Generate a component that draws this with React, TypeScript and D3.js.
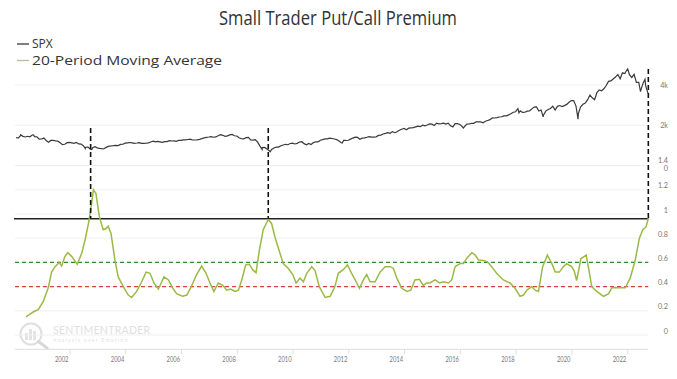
import React from "react";
import * as d3 from "d3";

// ---------- DATA ----------
const title = "Small Trader Put/Call Premium";
const legendLabels = ["SPX", "20-Period Moving Average"];
const xTickYears = [2002, 2004, 2006, 2008, 2010, 2012, 2014, 2016, 2018, 2020, 2022];
const lowerTicks = [0, 0.2, 0.4, 0.6, 0.8, 1, 1.2, 1.4];
const upperTicks = [0, 2000, 4000];
const upperTickLabels = ["0", "2k", "4k"];

// SPX monthly closes, Jan 2000 .. Sep 2022
const spxStartYear = 2000;
const spxMonthly = [
  1394, 1366, 1499, 1452, 1421, 1455, 1431, 1518, 1437, 1429, 1315, 1320,
  1366, 1240, 1160, 1249, 1256, 1224, 1211, 1134, 1041, 1060, 1139, 1148,
  1130, 1107, 1147, 1077, 1067, 990, 912, 916, 815, 886, 936, 880,
  856, 841, 848, 917, 964, 975, 990, 1008, 996, 1051, 1058, 1112,
  1131, 1145, 1126, 1107, 1121, 1141, 1102, 1104, 1115, 1130, 1174, 1212,
  1181, 1204, 1181, 1157, 1192, 1191, 1234, 1220, 1229, 1207, 1249, 1248,
  1280, 1281, 1295, 1311, 1270, 1270, 1277, 1304, 1336, 1378, 1401, 1418,
  1438, 1407, 1421, 1482, 1531, 1503, 1455, 1474, 1527, 1549, 1481, 1468,
  1379, 1331, 1323, 1386, 1400, 1280, 1267, 1283, 1165, 969, 896, 903,
  826, 735, 798, 873, 919, 919, 987, 1021, 1057, 1036, 1096, 1115,
  1074, 1104, 1169, 1187, 1089, 1031, 1102, 1049, 1141, 1183, 1181, 1258,
  1286, 1327, 1326, 1364, 1345, 1321, 1292, 1219, 1131, 1253, 1247, 1258,
  1312, 1366, 1408, 1398, 1310, 1362, 1379, 1407, 1441, 1412, 1416, 1426,
  1498, 1515, 1569, 1598, 1631, 1606, 1686, 1633, 1682, 1757, 1806, 1848,
  1783, 1859, 1872, 1884, 1924, 1960, 1931, 2003, 1972, 2018, 2068, 2059,
  1995, 2105, 2068, 2086, 2107, 2063, 2104, 1972, 1920, 2079, 2080, 2044,
  1940, 1932, 2060, 2065, 2097, 2099, 2174, 2171, 2168, 2126, 2199, 2239,
  2279, 2364, 2363, 2384, 2412, 2423, 2470, 2472, 2519, 2575, 2648, 2674,
  2824, 2714, 2641, 2648, 2705, 2718, 2816, 2902, 2914, 2712, 2760, 2507,
  2704, 2784, 2834, 2946, 2752, 2942, 2980, 2926, 2977, 3038, 3141, 3231,
  3226, 2954, 2585, 2912, 3044, 3100, 3271, 3500, 3363, 3270, 3622, 3756,
  3714, 3811, 3973, 4181, 4204, 4298, 4395, 4523, 4308, 4605, 4567, 4766,
  4516, 4374, 4530, 4132, 4132, 3785, 4130, 3955, 3586,
];
// weekly extremes visible in the picture
const spxExtremes: [number, number][] = [
  [2000.23, 1527], [2000.69, 1520], [2002.55, 847], [2002.78, 800], [2003.2, 833],
  [2008.89, 800], [2009.18, 683], [2011.76, 1120], [2016.11, 1864],
  [2018.1, 2619], [2018.97, 2417], [2020.22, 2305], [2022.0, 4797],
  [2022.46, 3675], [2022.62, 4280],
];

// 20-period moving average of the premium
const maPoints: [number, number][] = [
  [2000.42, 0.15], [2000.55, 0.17], [2000.68, 0.19], [2000.86, 0.21], [2001.04, 0.275],
  [2001.22, 0.39], [2001.34, 0.52], [2001.46, 0.565], [2001.62, 0.6], [2001.7, 0.57],
  [2001.82, 0.65], [2001.92, 0.68], [2002.06, 0.65], [2002.26, 0.585], [2002.42, 0.675],
  [2002.54, 0.785], [2002.66, 0.92], [2002.74, 1.03], [2002.84, 1.2], [2002.93, 1.17],
  [2003.05, 0.98], [2003.19, 0.87], [2003.29, 0.88], [2003.37, 0.9], [2003.47, 0.84],
  [2003.61, 0.62], [2003.73, 0.48], [2003.91, 0.4], [2004.09, 0.33], [2004.21, 0.31],
  [2004.39, 0.36], [2004.57, 0.44], [2004.73, 0.52], [2004.87, 0.51], [2005.01, 0.43],
  [2005.17, 0.38], [2005.29, 0.44], [2005.37, 0.48], [2005.53, 0.455], [2005.68, 0.39],
  [2005.83, 0.34], [2006.04, 0.32], [2006.19, 0.33], [2006.36, 0.405], [2006.54, 0.5],
  [2006.72, 0.57], [2006.88, 0.51], [2007.02, 0.43], [2007.16, 0.36], [2007.32, 0.43],
  [2007.48, 0.41], [2007.62, 0.37], [2007.76, 0.38], [2007.92, 0.36], [2008.04, 0.37],
  [2008.16, 0.455], [2008.3, 0.58], [2008.43, 0.585], [2008.55, 0.54], [2008.67, 0.515],
  [2008.79, 0.7], [2008.93, 0.87], [2009.11, 0.955], [2009.23, 0.92], [2009.35, 0.81],
  [2009.51, 0.69], [2009.65, 0.59], [2009.83, 0.55], [2009.99, 0.5], [2010.11, 0.43],
  [2010.25, 0.47], [2010.37, 0.44], [2010.49, 0.51], [2010.67, 0.565], [2010.79, 0.53],
  [2010.94, 0.4], [2011.15, 0.31], [2011.33, 0.32], [2011.5, 0.4], [2011.62, 0.51],
  [2011.8, 0.54], [2011.95, 0.58], [2012.1, 0.51], [2012.26, 0.44], [2012.38, 0.386],
  [2012.52, 0.455], [2012.64, 0.5], [2012.76, 0.44], [2012.94, 0.44], [2013.12, 0.52],
  [2013.3, 0.565], [2013.48, 0.565], [2013.6, 0.55], [2013.72, 0.47], [2013.9, 0.386],
  [2014.08, 0.36], [2014.22, 0.37], [2014.37, 0.455], [2014.53, 0.46], [2014.67, 0.41],
  [2014.79, 0.43], [2014.91, 0.43], [2015.09, 0.455], [2015.25, 0.43], [2015.39, 0.44],
  [2015.57, 0.43], [2015.69, 0.455], [2015.81, 0.565], [2015.99, 0.59], [2016.11, 0.59],
  [2016.23, 0.635], [2016.41, 0.68], [2016.53, 0.66], [2016.65, 0.62], [2016.82, 0.615],
  [2016.97, 0.605], [2017.12, 0.565], [2017.3, 0.51], [2017.54, 0.455], [2017.78, 0.43],
  [2017.96, 0.386], [2018.14, 0.32], [2018.26, 0.33], [2018.38, 0.37], [2018.56, 0.4],
  [2018.68, 0.37], [2018.8, 0.36], [2018.95, 0.565], [2019.12, 0.66], [2019.28, 0.59],
  [2019.4, 0.52], [2019.55, 0.52], [2019.69, 0.565], [2019.81, 0.59], [2019.99, 0.565],
  [2020.08, 0.53], [2020.17, 0.45], [2020.32, 0.63], [2020.51, 0.66], [2020.6, 0.55],
  [2020.71, 0.4], [2020.89, 0.36], [2021.13, 0.32], [2021.31, 0.34], [2021.43, 0.39],
  [2021.61, 0.39], [2021.91, 0.39], [2022.09, 0.47], [2022.27, 0.62], [2022.42, 0.8],
  [2022.54, 0.87], [2022.66, 0.895], [2022.74, 0.965],
];

const thresholdHigh = 0.96;
const thresholdGreen = 0.6;
const thresholdRed = 0.4;
// signal dates with the top of their dashed marker (SPX units)
const signalYears = [2002.74, 2009.11, 2022.74];
const signalTops = [1860, 1860, 4800];

// ---------- LAYOUT ----------
const W = 677;
const H = 379;
const left = 15;
const right = 648.3;

export default function App() {
  const x = d3.scaleLinear().domain([2002, 2022]).range([70, 627.7]);
  const yLow = d3.scaleLinear().domain([0, 1.4]).range([335, 165.6]);
  const yUp = d3.scaleLinear().domain([0, 4000]).range([165.6, 85]);

  const spxPoints: [number, number][] = spxMonthly
    .map((v, i) => [spxStartYear + (i + 0.75) / 12, v] as [number, number])
    .concat(spxExtremes)
    .sort((a, b) => a[0] - b[0]);

  const spxLine = d3
    .line<[number, number]>()
    .x((d) => x(d[0]))
    .y((d) => yUp(d[1]));
  const maLine = d3
    .line<[number, number]>()
    .x((d) => x(d[0]))
    .y((d) => yLow(d[1]));

  const axisY = 349.3;
  const font = "Lato, 'Open Sans', sans-serif";
  const titleFont = "'Open Sans', Lato, sans-serif";

  return (
    <div style={{ position: "absolute", left: 0, top: 0 }}>
      <svg width={W} height={H} style={{ display: "block", background: "#fff" }}>
        {/* watermark */}
        <g opacity={0.9}>
          <circle cx={31} cy={334} r={10.5} fill="none" stroke="#dcdcdc" strokeWidth={2} />
          <rect x={25} y={333} width={3} height={7} fill="#e0e0e0" />
          <rect x={29} y={329} width={3} height={11} fill="#e0e0e0" />
          <rect x={33} y={331} width={3} height={9} fill="#e0e0e0" />
          <line x1={38.5} y1={341.5} x2={47} y2={348} stroke="#d4d4d4" strokeWidth={3} strokeLinecap="round" />
          <text x={53} y={334} fontFamily={font} fontSize={10.5} fill="#dcdcdc" letterSpacing={0.3}>
            SENTIMENTRADER
          </text>
          <text x={53} y={341.5} fontFamily={font} fontSize={5} fill="#e0e0e0" letterSpacing={1.3}>
            Analysis over Emotion
          </text>
        </g>

        {/* gridlines */}
        {lowerTicks.map((t) => (
          <line key={"gl" + t} x1={left} x2={right} y1={yLow(t)} y2={yLow(t)} stroke="#efefef" strokeWidth={1} />
        ))}
        {upperTicks.map((t) => (
          <line key={"gu" + t} x1={left} x2={right} y1={yUp(t)} y2={yUp(t)} stroke="#efefef" strokeWidth={1} />
        ))}

        {/* x axis */}
        <line x1={left} x2={right} y1={axisY} y2={axisY} stroke="#dedede" strokeWidth={1} />
        {xTickYears.map((yr) => (
          <g key={"xt" + yr}>
            <line x1={x(yr)} x2={x(yr)} y1={axisY} y2={axisY + 5} stroke="#dedede" strokeWidth={1} />
            <text
              x={x(yr) - 1.5}
              y={axisY + 12.5}
              textAnchor="end"
              fontFamily={font}
              fontSize={8}
              fill="#777"
              textLength={13.5}
              lengthAdjust="spacingAndGlyphs"
            >
              {yr}
            </text>
          </g>
        ))}

        {/* right axis labels */}
        {lowerTicks.map((t) => (
          <text
            key={"ll" + t}
            x={668}
            y={yLow(t) - (t === 1.4 ? 5 : 4)}
            dy="0.35em"
            textAnchor="end"
            fontFamily={font}
            fontSize={7.2}
            fill="#777"
          >
            {String(t)}
          </text>
        ))}
        {upperTicks.map((t, i) => (
          <text
            key={"ul" + t}
            x={668}
            y={yUp(t) + (t === 0 ? 2.6 : 0)}
            dy="0.35em"
            textAnchor="end"
            fontFamily={font}
            fontSize={7.2}
            fill="#777"
          >
            {upperTickLabels[i]}
          </text>
        ))}

        {/* threshold lines */}
        <line x1={left} x2={right} y1={yLow(thresholdGreen)} y2={yLow(thresholdGreen)} stroke="#2f8a2f" strokeWidth={1.2} strokeDasharray="4,3" />
        <line x1={left} x2={right} y1={yLow(thresholdRed)} y2={yLow(thresholdRed)} stroke="#d9443c" strokeWidth={1.2} strokeDasharray="4,3" />
        <line x1={14} x2={right} y1={yLow(thresholdHigh)} y2={yLow(thresholdHigh)} stroke="#222" strokeWidth={1.5} />

        {/* series */}
        <path d={spxLine(spxPoints) || ""} fill="none" stroke="#3a3a3a" strokeWidth={1.2} />
        <path d={maLine(maPoints) || ""} fill="none" stroke="#9aba45" strokeWidth={1.5} />

        {/* signal markers */}
        {signalYears.map((yr, i) => (
          <line
            key={"sig" + yr}
            x1={x(yr)}
            x2={x(yr)}
            y1={yUp(signalTops[i])}
            y2={yLow(thresholdHigh)}
            stroke="#111"
            strokeWidth={1.6}
            strokeDasharray="5,3"
          />
        ))}

        {/* title */}
        <text
          x={338}
          y={25}
          textAnchor="middle"
          fontFamily={titleFont}
          fontSize={20}
          fill="#333"
          textLength={238}
          lengthAdjust="spacingAndGlyphs"
        >
          {title}
        </text>

        {/* legend */}
        <line x1={17} x2={29} y1={44} y2={44} stroke="#3a3a3a" strokeWidth={1.3} />
        <text x={32} y={44} dy="0.35em" fontFamily={titleFont} fontSize={12} fill="#333">
          {legendLabels[0]}
        </text>
        <line x1={17} x2={29} y1={60.5} y2={60.5} stroke="#b8bb98" strokeWidth={1.3} />
        <text
          x={32}
          y={60.5}
          dy="0.35em"
          fontFamily={titleFont}
          fontSize={12}
          fill="#333"
          textLength={190}
          lengthAdjust="spacingAndGlyphs"
        >
          {legendLabels[1]}
        </text>
      </svg>
    </div>
  );
}
